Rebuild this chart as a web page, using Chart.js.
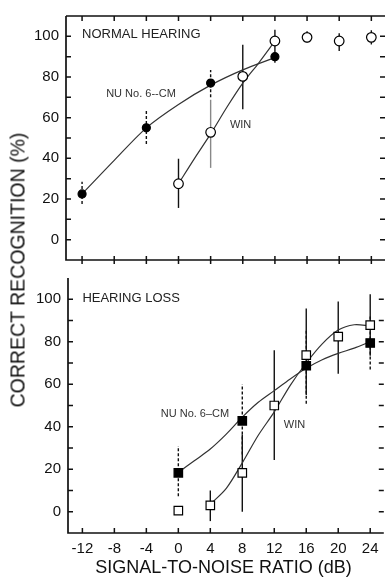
<!DOCTYPE html>
<html lang="en">
<head>
    <meta charset="UTF-8">
    <title>Correct recognition vs SNR</title>
    <script src="https://cdn.jsdelivr.net/npm/chart.js"></script>
    <style>
        html, body { margin: 0; padding: 0; background: #fff; overflow: hidden; }
        body { width: 391px; height: 579px; position: relative; font-family: "Liberation Sans", Arial, sans-serif; }
        canvas { position: absolute; left: 0; }
        #topChart { top: 0; }
        #botChart { top: 262px; }
        .axis-title { position: absolute; white-space: nowrap; color: #111; }
        #xTitle { left: 223.5px; top: 567px; font-size: 18px; transform: translate(-50%, -50%); }
        #yTitle { left: 17.5px; top: 270px; font-size: 19.5px; transform: translate(-50%, -50%) rotate(-90deg); }
    </style>
</head>
<body>
    <canvas id="topChart" width="391" height="276"></canvas>
    <canvas id="botChart" width="391" height="317"></canvas>
    <div class="axis-title" id="yTitle">CORRECT RECOGNITION (%)</div>
    <div class="axis-title" id="xTitle">SIGNAL-TO-NOISE RATIO (dB)</div>
    <script>
        // tick labels
        const snrTicks = [-12, -8, -4, 0, 4, 8, 12, 16, 20, 24];
        const pctTicks = [0, 20, 40, 60, 80, 100];
        const pctMinor = [0, 10, 20, 30, 40, 50, 60, 70, 80, 90, 100];

        // normal hearing, NU No. 6-CM (filled circles, dashed bars)
        const nhNuX  = [-12, -4, 4, 12];
        const nhNuY  = [22.5, 55, 77, 90];
        const nhNuLo = [17.5, 47, 70, 87];
        const nhNuHi = [28.5, 64, 83.5, 92];
        // normal hearing, WIN (open circles, solid bars)
        const nhWinX  = [0, 4, 8, 12, 16, 20, 24];
        const nhWinY  = [27.5, 52.8, 80.3, 97.7, 99.5, 97.7, 99.5];
        const nhWinLo = [15.6, 35.3, 64.2, 92, 97, 92.8, 96];
        const nhWinHi = [39.8, 68.8, 95.9, 103.2, 102.5, 101.5, 103];
        // fitted curves
        const nhNuFitX  = [-12, -8, -4, 0, 4, 8, 12];
        const nhNuFitY  = [22.5, 39, 55, 66.5, 76, 83.5, 89.5];
        const nhWinFitX = [0, 2, 4, 6, 8, 10, 12];
        const nhWinFitY = [27.5, 40, 52, 65, 77, 87, 97.7];

        // hearing loss, NU No. 6-CM (filled squares)
        const hlNuX  = [0, 8, 16, 24];
        const hlNuY  = [18.3, 42.8, 68.7, 79.4];
        const hlNuLo = [7.3, 27, 50.8, 66.9];
        const hlNuHi = [31, 60, 85.5, 92.4];
        // hearing loss, WIN (open squares)
        const hlWinX  = [0, 4, 8, 12, 16, 20, 24];
        const hlWinY  = [0.5, 3, 18.3, 50, 73.7, 82.4, 87.8];
        const hlWinLo = [null, -4.4, 0, 24.4, 55, 64.9, 73.4];
        const hlWinHi = [null, 10, 36.3, 76, 95.6, 99, 102.4];
        const hlNuFitX  = [0, 2, 4, 6, 8, 10, 12, 14, 16, 18, 20, 22, 24];
        const hlNuFitY  = [18.5, 24, 29.5, 36.5, 44.5, 51.5, 57, 62.5, 67.5, 71.5, 74.5, 77, 80];
        const hlWinFitX = [4, 6, 8, 10, 12, 14, 16, 18, 20, 22, 24];
        const hlWinFitY = [3.5, 11, 23, 36, 47, 59.5, 70, 79, 85.5, 88, 87.5];

        const FONT = 'Liberation Sans, Arial, sans-serif';
        Chart.defaults.font.family = FONT;
        Chart.defaults.color = '#000';

        const pts = (xs, ys) => xs.map((x, i) => ({ x: x, y: ys[i] }));

        // error bars, frame, inner ticks and text notes
        const panelDeco = {
            id: 'panelDeco',
            beforeDatasetsDraw(chart, args, o) {
                const { ctx, scales: { x, y } } = chart;
                ctx.save();
                ctx.lineWidth = 1.4;
                o.bars.forEach(b => {
                    ctx.setLineDash(b.dash);
                    b.xs.forEach((xv, i) => {
                        if (b.lo[i] == null) return;
                        const px = x.getPixelForValue(xv);
                        ctx.strokeStyle = (b.colors && b.colors[i]) || '#111';
                        ctx.beginPath();
                        ctx.moveTo(px, y.getPixelForValue(b.lo[i]));
                        ctx.lineTo(px, y.getPixelForValue(b.hi[i]));
                        ctx.stroke();
                    });
                });
                ctx.restore();
            },
            afterDatasetsDraw(chart, args, o) {
                const { ctx, chartArea: a, scales: { x, y } } = chart;
                const tl = 5;
                ctx.save();
                ctx.strokeStyle = '#111';
                ctx.lineWidth = 1.7;
                ctx.beginPath();
                ctx.moveTo(a.left, a.top);
                ctx.lineTo(a.left, a.bottom);
                ctx.lineTo(a.right, a.bottom);
                if (o.topLine) {
                    ctx.moveTo(a.left, a.top);
                    ctx.lineTo(a.right, a.top);
                }
                ctx.stroke();
                ctx.lineWidth = 1.5;
                ctx.beginPath();
                pctMinor.forEach(v => {
                    const py = y.getPixelForValue(v);
                    ctx.moveTo(a.left, py); ctx.lineTo(a.left + tl, py);
                    ctx.moveTo(a.right - tl, py); ctx.lineTo(a.right, py);
                });
                snrTicks.forEach(v => {
                    const px = x.getPixelForValue(v);
                    if (o.topTicks) { ctx.moveTo(px, a.top); ctx.lineTo(px, a.top + tl); }
                    if (o.bottomTicks === 'cross') { ctx.moveTo(px, a.bottom - 4); ctx.lineTo(px, a.bottom + 4); }
                    if (o.bottomTicks === 'in') { ctx.moveTo(px, a.bottom); ctx.lineTo(px, a.bottom - tl); }
                });
                ctx.stroke();
                ctx.textBaseline = 'middle';
                ctx.textAlign = 'left';
                o.notes.forEach(n => {
                    ctx.font = n.size + 'px ' + FONT;
                    ctx.fillStyle = n.color;
                    ctx.fillText(n.text, x.getPixelForValue(n.x), y.getPixelForValue(n.y));
                });
                ctx.restore();
            }
        };

        function fitLine(data) {
            return { data: data, showLine: true, borderColor: '#333', borderWidth: 1.2,
                     pointRadius: 0, tension: 0.3, fill: false };
        }
        function marks(data, style, radius, fillColor) {
            return { data: data, showLine: false, pointStyle: style, pointRadius: radius,
                     pointBackgroundColor: fillColor, pointBorderColor: '#000', pointBorderWidth: 1.2 };
        }

        function makeOptions(xMin, yWidth, xHeight, showX, deco) {
            return {
                responsive: false,
                animation: false,
                layout: { padding: { top: 9, left: 0, right: 0, bottom: 0 } },
                plugins: { legend: { display: false }, tooltip: { enabled: false }, panelDeco: deco },
                scales: {
                    x: {
                        type: 'linear', min: xMin, max: 25.7,
                        afterFit: s => { s.height = xHeight; },
                        afterBuildTicks: s => { s.ticks = snrTicks.map(v => ({ value: v })); },
                        grid: { display: false, drawTicks: false },
                        border: { display: false },
                        ticks: { display: showX, padding: 7, font: { size: 15 }, color: '#111' }
                    },
                    y: {
                        min: -10, max: 110,
                        afterFit: s => { s.width = yWidth; },
                        afterBuildTicks: s => { s.ticks = pctTicks.map(v => ({ value: v })); },
                        grid: { display: false, drawTicks: false },
                        border: { display: false },
                        ticks: { padding: 7, font: { size: 15 }, color: '#111' }
                    }
                }
            };
        }

        new Chart(document.getElementById('topChart'), {
            type: 'scatter',
            plugins: [panelDeco],
            data: {
                datasets: [
                    marks(pts(nhNuX, nhNuY), 'circle', 4, '#000'),
                    marks(pts(nhWinX, nhWinY), 'circle', 4.8, '#fff'),
                    fitLine(pts(nhNuFitX, nhNuFitY)),
                    fitLine(pts(nhWinFitX, nhWinFitY))
                ]
            },
            options: makeOptions(-14, 66, 4, false, {
                topLine: true, topTicks: true, bottomTicks: 'cross',
                bars: [
                    { xs: nhNuX, lo: nhNuLo, hi: nhNuHi, dash: [3, 2] },
                    { xs: nhWinX, lo: nhWinLo, hi: nhWinHi, dash: [], colors: ['#111', '#888'] }
                ],
                notes: [
                    { text: 'NORMAL HEARING', x: -12, y: 101, size: 13, color: '#222' },
                    { text: 'NU No. 6--CM', x: -9, y: 71.7, size: 11, color: '#333' },
                    { text: 'WIN', x: 6.4, y: 56.6, size: 11, color: '#333' }
                ]
            })
        });

        new Chart(document.getElementById('botChart'), {
            type: 'scatter',
            plugins: [panelDeco],
            data: {
                datasets: [
                    marks(pts(hlNuX, hlNuY), 'rect', 6, '#000'),
                    marks(pts(hlWinX, hlWinY), 'rect', 6, '#fff'),
                    fitLine(pts(hlNuFitX, hlNuFitY)),
                    fitLine(pts(hlWinFitX, hlWinFitY))
                ]
            },
            options: makeOptions(-13.8, 68, 46, true, {
                topLine: false, topTicks: false, bottomTicks: 'in',
                bars: [
                    { xs: hlNuX, lo: hlNuLo, hi: hlNuHi, dash: [3, 2] },
                    { xs: hlWinX, lo: hlWinLo, hi: hlWinHi, dash: [] }
                ],
                notes: [
                    { text: 'HEARING LOSS', x: -12, y: 100.5, size: 13, color: '#222' },
                    { text: 'NU No. 6\u2013CM', x: -2.2, y: 45.9, size: 11, color: '#333' },
                    { text: 'WIN', x: 13.2, y: 40.9, size: 11, color: '#333' }
                ]
            })
        });
    </script>
</body>
</html>
